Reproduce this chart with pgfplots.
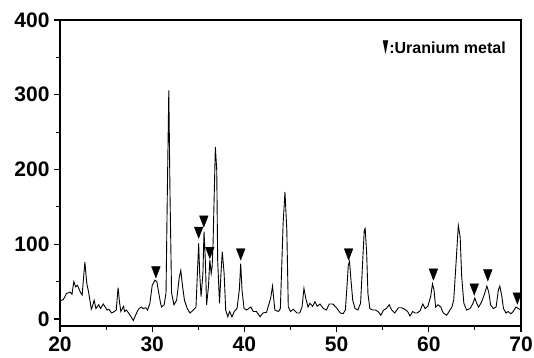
\documentclass[border=0pt]{standalone}
\usepackage{fontspec}
\setmainfont{Liberation Sans}
\usepackage{graphicx}
\usepackage{pgfplots}
\pgfplotsset{compat=1.18}
\begin{document}
\begin{tikzpicture}
\begin{axis}[
  scale only axis,
  width=461pt, height=306pt,
  xmin=20, xmax=70, ymin=-9.4, ymax=400,
  xtick={20,30,...,70}, ytick={0,100,...,400},
  minor x tick num=1, minor y tick num=1,
  tick pos=left, tick align=outside,
  major tick length=6pt, minor tick length=4pt,
  axis line style={line width=1.3pt},
  every tick/.style={black, line width=1.1pt},
  /pgf/number format/assume math mode=true,
  tick label style={font=\fontsize{21}{21}\selectfont\bfseries},
  yticklabel style={xshift=-1pt},
  xticklabel style={yshift=-1pt},
  clip=false,
]
\addplot[black, line width=0.9pt] coordinates {
(20.0,24) (20.36,26) (20.7,34) (21.1,36) (21.3,33) (21.5,50) (21.7,43) (21.9,45)
(22.2,36) (22.4,32) (22.7,76) (22.9,48) (23.1,36) (23.4,13) (23.5,16) (23.7,25)
(23.9,14) (24.2,19) (24.4,14) (24.7,20) (25.1,12) (25.3,13) (25.6,8) (25.9,10)
(26.1,12) (26.3,42) (26.45,23) (26.6,10) (26.9,17) (27.0,10) (27.2,12) (27.5,7)
(27.7,3) (27.95,-2) (28.2,5) (28.5,13) (28.8,16) (29.0,14) (29.3,15) (29.5,12)
(29.75,21) (30.0,45) (30.3,52) (30.5,50) (30.85,25) (31.0,16) (31.3,19) (31.5,35)
(31.64,168) (31.8,306) (31.93,168) (32.1,35) (32.36,19) (32.65,25) (32.94,56) (33.1,65)
(33.3,43) (33.5,25) (33.8,14) (34.1,8) (34.46,12) (34.75,16) (34.9,61) (35.04,101)
(35.15,61) (35.3,30) (35.5,61) (35.62,117) (35.76,79) (35.9,19) (36.1,43) (36.25,79)
(36.4,61) (36.5,70) (36.6,101) (36.85,230) (37.0,199) (37.1,79) (37.3,21) (37.46,61)
(37.6,90) (37.8,61) (37.97,12) (38.2,3) (38.4,10) (38.65,3) (38.9,10) (39.2,14)
(39.45,39) (39.6,74) (39.74,39) (39.96,14) (40.25,12) (40.7,16) (40.96,10) (41.3,10)
(41.7,3) (42.0,8) (42.4,9) (42.85,28) (43.05,44) (43.3,12) (43.7,10) (43.9,14)
(44.2,128) (44.4,170) (44.6,119) (44.76,16) (45.0,10) (45.3,13) (45.7,8) (46.0,8)
(46.25,16) (46.46,41) (46.65,28) (46.9,16) (47.1,21) (47.4,17) (47.65,23) (47.9,17)
(48.2,20) (48.56,14) (48.9,12) (49.2,20) (49.6,20) (50.0,15) (50.4,8) (50.7,7)
(50.95,12) (51.1,39) (51.27,72) (51.4,77) (51.56,52) (51.75,25) (52.0,14) (52.3,12)
(52.6,21) (52.8,70) (53.0,119) (53.1,121) (53.26,88) (53.4,34) (53.6,14) (53.9,12)
(54.2,12) (54.5,10) (54.8,5) (55.1,12) (55.4,14) (55.7,19) (55.97,12) (56.3,8)
(56.7,15) (57.06,15) (57.4,13) (57.7,10) (57.96,4) (58.25,10) (58.5,8) (58.75,8)
(59.05,11) (59.35,20) (59.6,14) (59.9,17) (60.2,30) (60.4,47) (60.56,39) (60.74,16)
(61.0,19) (61.3,16) (61.57,8) (61.94,5) (62.2,10) (62.5,16) (62.7,25) (62.95,74)
(63.2,125) (63.4,110) (63.57,56) (63.8,21) (64.1,12) (64.47,14) (64.76,20) (64.98,28)
(65.2,21) (65.4,16) (65.7,22) (66.0,32) (66.3,44) (66.5,36) (66.7,19) (67.0,14)
(67.3,16) (67.55,39) (67.7,44) (67.9,32) (68.1,14) (68.37,8) (68.6,10) (68.9,7)
(69.16,10) (69.45,16) (69.7,14) (70.0,12)
};
\addplot[only marks, mark=triangle*, mark size=5pt,
  mark options={black, fill=black, rotate=180, yscale=1.5}] coordinates {
(30.4,65) (35.04,118) (35.6,133) (36.25,91) (39.6,89) (51.3,89)
(60.5,62) (64.93,42) (66.4,61) (69.6,30)
};
\node[anchor=west, inner sep=0pt, font=\fontsize{16}{16}\selectfont\bfseries]
  at (axis cs:54.9,363) {\kern-1pt\raisebox{-0.5pt}{\scalebox{0.6}[1.5]{▼}}\kern-1.2pt:Uranium metal};
\end{axis}
\pgfresetboundingbox
\path[use as bounding box] (current axis.south west) ++(-60pt,-31pt) rectangle ++(534pt,357pt);
\end{tikzpicture}
\end{document}
